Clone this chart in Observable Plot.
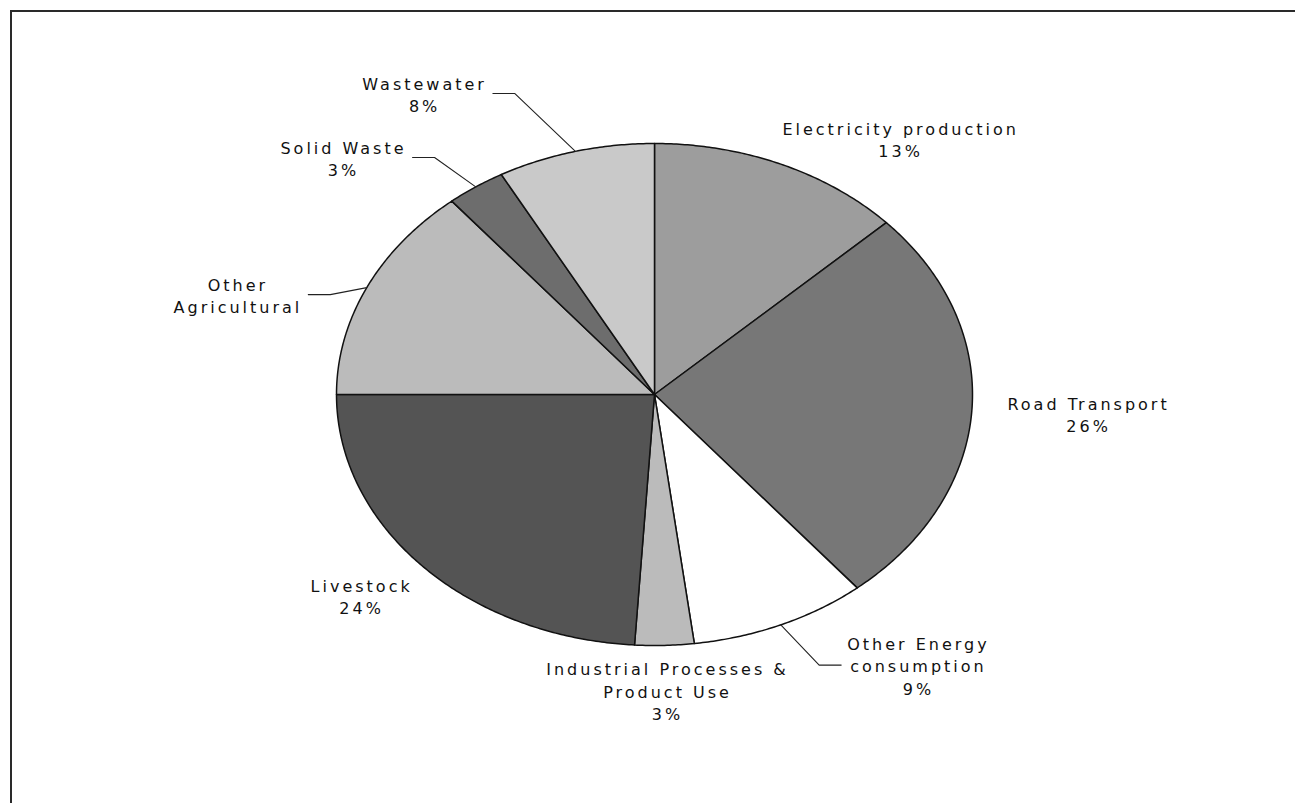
<!DOCTYPE html>
<html><head><meta charset="utf-8">
<script src="https://cdn.jsdelivr.net/npm/d3@7"></script>
<script src="https://cdn.jsdelivr.net/npm/@observablehq/plot@0.6"></script>
<style>
html,body{margin:0;padding:0;overflow:hidden;background:#fff;width:1295px;height:803px}
#chart{position:absolute;left:0;top:0}
#frame{position:absolute;left:10px;top:10px;width:1300px;height:1000px;border-top:2px solid #2a2a2a;border-left:2px solid #2a2a2a;pointer-events:none}
#chart svg text{letter-spacing:3px}
</style></head><body>
<div id="chart"></div><div id="frame"></div>
<script>
// ---- data ----
const categories = ["Electricity production","Road Transport","Other Energy consumption","Industrial Processes & Product Use","Livestock","Other Agricultural","Solid Waste","Wastewater"];
const shares = [13, 26, 9, 3, 24, 14, 3, 8];
const nameLabels = ["Electricity production","Road Transport","Other Energy\nconsumption","Industrial Processes &\nProduct Use","Livestock","Other\nAgricultural","Solid Waste","Wastewater"];
const pctLabels = ["13%","26%","9%","3%","24%","","3%","8%"];
const palette = ["#9d9d9d","#777777","#ffffff","#bbbbbb","#545454","#bbbbbb","#6d6d6d","#c9c9c9"];

// ---- layout ----
const W = 1295, H = 803, CX = 654, CY = 394, RX = 318, RY = 251;
const FONT_SIZE = 16, LETTER = 3, LINE_H = 1.4, GAP = 6, ELBOW = 22;
// label block centres in unit-ellipse coordinates (y up)
const labelAt = {
  "Electricity production": [0.774, 1.018],
  "Road Transport": [1.365, -0.076],
  "Other Energy consumption": [0.830, -1.078],
  "Industrial Processes & Product Use": [0.041, -1.179],
  "Livestock": [-0.921, -0.803],
  "Other Agricultural": [-1.31, 0.398],
  "Solid Waste": [-0.978, 0.944],
  "Wastewater": [-0.723, 1.199]
};
const withLeader = new Set(["Other Energy consumption","Other Agricultural","Solid Waste","Wastewater"]);

// ---- build ----
const arcs = d3.pie().sort(null).value(d => d)(shares);
const slicePts = [];
arcs.forEach((a, i) => {
  const cat = categories[i];
  slicePts.push({cat, ux: 0, uy: 0});
  const n = Math.max(2, Math.ceil((a.endAngle - a.startAngle) / (Math.PI / 360)));
  for (let k = 0; k <= n; k++) {
    const t = a.startAngle + (a.endAngle - a.startAngle) * k / n;
    slicePts.push({cat, ux: Math.sin(t), uy: Math.cos(t)});
  }
  slicePts.push({cat, ux: 0, uy: 0});
});

const ctx = document.createElement("canvas").getContext("2d");
ctx.font = `${FONT_SIZE}px "DejaVu Sans"`;
const textW = s => ctx.measureText(s).width + LETTER * s.length;

const labels = categories.map((cat, i) => {
  const text = pctLabels[i] ? nameLabels[i] + "\n" + pctLabels[i] : nameLabels[i];
  const [ux, uy] = labelAt[cat];
  const half = d3.max(text.split("\n"), textW) / 2;
  return {cat, text, ux, uy, half, mid: (arcs[i].startAngle + arcs[i].endAngle) / 2};
});

const leaderPts = [];
labels.filter(l => withLeader.has(l.cat)).forEach(l => {
  const side = l.ux < 0 ? 1 : -1; // left labels attach on their right edge
  const endX = l.ux + side * (l.half + GAP) / RX;
  const elbowX = endX + side * ELBOW / RX;
  leaderPts.push({cat: l.cat, ux: Math.sin(l.mid), uy: Math.cos(l.mid)});
  leaderPts.push({cat: l.cat, ux: elbowX, uy: l.uy});
  leaderPts.push({cat: l.cat, ux: endX, uy: l.uy});
});

const chart = Plot.plot({
  width: W, height: H,
  marginTop: 0, marginRight: 0, marginBottom: 0, marginLeft: 0,
  x: {domain: [-CX / RX, (W - CX) / RX], axis: null},
  y: {domain: [-(H - CY) / RY, CY / RY], axis: null},
  color: {domain: categories, range: palette},
  style: {fontFamily: "'DejaVu Sans', Verdana, sans-serif", background: "transparent", overflow: "visible"},
  marks: [
    Plot.line(slicePts, {x: "ux", y: "uy", z: "cat", fill: "cat", stroke: "#111", strokeWidth: 1.5, curve: "linear"}),
    Plot.line(leaderPts, {x: "ux", y: "uy", z: "cat", stroke: "#222", strokeWidth: 1.1}),
    Plot.text(labels, {x: "ux", y: "uy", text: "text", fontSize: FONT_SIZE, lineHeight: LINE_H,
      textAnchor: "middle", lineAnchor: "middle", fill: "#111"})
  ]
});
document.getElementById("chart").appendChild(chart);
</script>
</body></html>
